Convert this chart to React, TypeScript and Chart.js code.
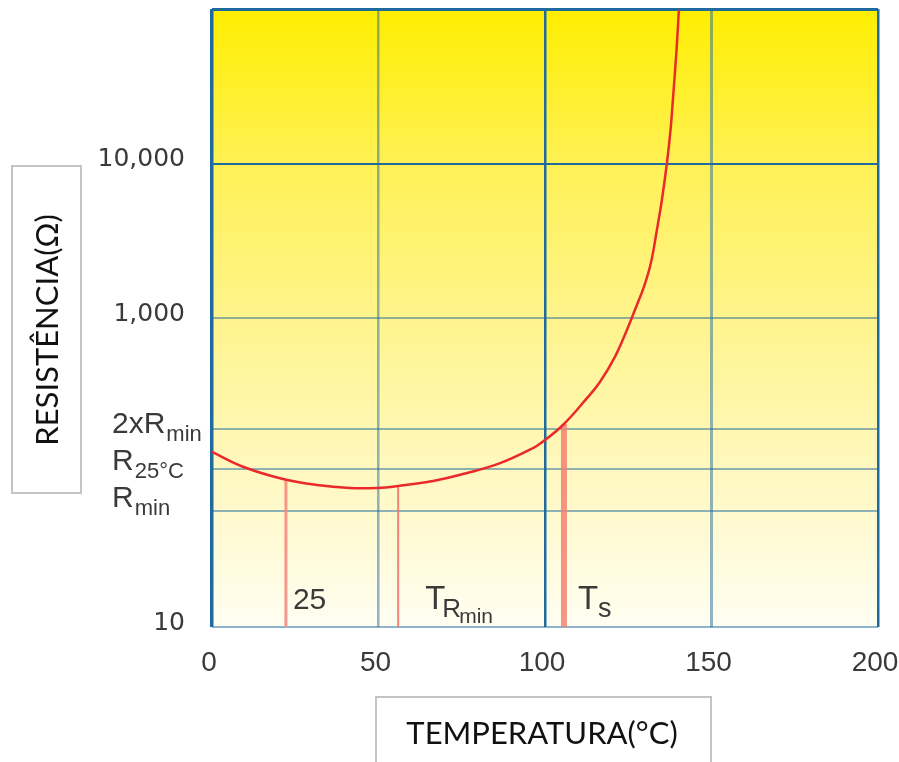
import { useEffect, useRef } from 'react';
import { Chart, registerables } from 'chart.js';

Chart.register(...registerables);

// Resistance curve (temperature °C -> resistance Ω)
const curveT = [0, 9.3, 21.3, 31.5, 41.4, 49.5, 55.9, 66.4, 76.6, 86.5, 96.4, 99.1, 105.4, 112.6, 116.5, 121, 124.6, 127, 129.7, 131.8, 133.6, 135.1, 136.6, 137.7, 138.4, 139.5, 140.2];
const curveR = [136, 109, 90.8, 83, 79.4, 79.4, 81.8, 88.1, 99.3, 115, 144, 157, 203, 303, 385, 560, 836, 1127, 1589, 2270, 3715, 5808, 10000, 16480, 25760, 54300, 98700];

// Vertical marker lines (25 °C, T_Rmin, T_s)
const markerT = [22.2, 55.9, 105.7];
const markerR = [89, 81.8, 205];

// Axis ticks
const xTickValues = [0, 50, 100, 150, 200];
const yTickValues = [10, 56, 105, 190, 1000, 10000, 100000];
const yTickLabels = ['10', '', '', '', '1,000', '10,000', ''];

// Special y labels with subscripts
const specialR = [190, 105, 56];
const specialBase = ['2xR', 'R', 'R'];
const specialSub = ['min', '25°C', 'min'];

const xTitle = 'TEMPERATURA(°C)';
const yTitle = 'RESISTÊNCIA(Ω)';

const DARK = '#1f6a9e';
const LIGHT = 'rgba(31,106,158,0.5)';
const TXT = '#3a3a3a';
const SANS = '"Liberation Sans", Arial, sans-serif';

export default function App() {
  const ref = useRef<HTMLCanvasElement | null>(null);

  useEffect(() => {
    const canvas = ref.current;
    if (!canvas) return;

    const bgPlugin = {
      id: 'bg',
      beforeDraw(chart: any) {
        const { ctx, chartArea: a } = chart;
        const g = ctx.createLinearGradient(0, a.top, 0, a.bottom);
        g.addColorStop(0, 'rgb(255,238,0)');
        g.addColorStop(0.25, 'rgb(255,241,85)');
        g.addColorStop(0.5, 'rgb(255,244,140)');
        g.addColorStop(0.75, 'rgb(255,248,192)');
        g.addColorStop(1, 'rgb(255,254,242)');
        ctx.save();
        ctx.fillStyle = g;
        ctx.fillRect(a.left, a.top, a.right - a.left, a.bottom - a.top);
        ctx.restore();
      },
    };

    const textPlugin = {
      id: 'texts',
      afterDraw(chart: any) {
        const { ctx, chartArea: a } = chart;
        const xs = chart.scales.x;
        const ys = chart.scales.y;
        ctx.save();
        ctx.fillStyle = TXT;
        ctx.textBaseline = 'alphabetic';
        ctx.textAlign = 'left';
        // special y labels
        const offs = [4, 1, -4];
        for (let i = 0; i < specialR.length; i++) {
          const py = ys.getPixelForValue(specialR[i]) + offs[i];
          ctx.font = `30px ${SANS}`;
          ctx.fillText(specialBase[i], 112, py);
          const w = ctx.measureText(specialBase[i]).width;
          ctx.font = `22px ${SANS}`;
          ctx.fillText(specialSub[i], 112 + w + 1, py + 8);
        }
        // marker labels
        const base = a.bottom - 18;
        ctx.font = `30px ${SANS}`;
        ctx.fillText('25', xs.getPixelForValue(markerT[0]) + 7, base);
        let x = xs.getPixelForValue(markerT[1]) + 27;
        ctx.font = `33px ${SANS}`;
        ctx.fillText('T', x, base);
        ctx.font = `26px ${SANS}`;
        ctx.fillText('R', x + 17, base + 8);
        ctx.font = `21px ${SANS}`;
        ctx.fillText('min', x + 34, base + 14);
        x = xs.getPixelForValue(markerT[2]) + 14;
        ctx.font = `33px ${SANS}`;
        ctx.fillText('T', x, base);
        ctx.font = `27px ${SANS}`;
        ctx.fillText('s', x + 20, base + 8);

        // axis title boxes
        ctx.strokeStyle = '#c4c4c4';
        ctx.lineWidth = 2;
        ctx.fillStyle = '#ffffff';
        ctx.fillRect(12, 166, 69, 327);
        ctx.strokeRect(12, 166, 69, 327);
        ctx.fillRect(376, 697, 335, 80);
        ctx.strokeRect(376, 697, 335, 80);
        ctx.fillStyle = '#111111';
        ctx.font = '31px Lato, "Liberation Sans Narrow", sans-serif';
        ctx.textAlign = 'center';
        ctx.textBaseline = 'middle';
        ctx.fillText(xTitle, 542, 734);
        ctx.translate(47, 330);
        ctx.rotate(-Math.PI / 2);
        ctx.fillText(yTitle, 0, 1);
        ctx.restore();
      },
    };

    const markerSets = markerT.map((t, i) => ({
      data: [
        { x: t, y: markerR[i] },
        { x: t, y: 10 },
      ],
      borderColor: ['rgba(245,140,130,0.9)', 'rgba(240,120,110,0.9)', 'rgba(242,130,115,0.85)'][i],
      borderWidth: [3, 2, 6][i],
      pointRadius: 0,
      tension: 0,
      order: 2,
    }));

    const chart = new Chart(canvas, {
      type: 'line',
      data: {
        datasets: [
          {
            data: curveT.map((t, i) => ({ x: t, y: curveR[i] })),
            borderColor: '#ea2a2a',
            borderWidth: 2.5,
            pointRadius: 0,
            tension: 0.4,
            order: 0,
          },
          ...markerSets,
        ],
      },
      options: {
        animation: false,
        responsive: false,
        layout: { padding: { top: 9, right: 21, left: 0, bottom: 0 } },
        plugins: { legend: { display: false }, tooltip: { enabled: false } },
        scales: {
          x: {
            type: 'linear',
            min: 0,
            max: 200,
            afterBuildTicks: (s: any) => {
              s.ticks = xTickValues.map((v) => ({ value: v }));
            },
            afterFit: (s: any) => {
              s.height = 135;
              s.paddingLeft = 0;
              s.paddingRight = 0;
            },
            border: { display: false },
            grid: {
              drawTicks: false,
              color: (c: any) => (c.tick && (c.tick.value === 0 || c.tick.value === 100 || c.tick.value === 200) ? DARK : LIGHT),
              lineWidth: (c: any) => (c.tick && c.tick.value === 0 ? 3.5 : c.tick && c.tick.value === 150 ? 3 : 2.5),
            },
            ticks: {
              padding: 19,
              labelOffset: -3,
              color: TXT,
              font: { family: '"Liberation Sans", Arial', size: 28 },
              maxRotation: 0,
              autoSkip: false,
            },
          },
          y: {
            type: 'logarithmic',
            min: 10,
            max: 100000,
            afterBuildTicks: (s: any) => {
              s.ticks = yTickValues.map((v) => ({ value: v }));
            },
            afterFit: (s: any) => {
              s.width = 212;
              s.paddingTop = 0;
              s.paddingBottom = 0;
            },
            border: { display: false },
            grid: {
              drawTicks: false,
              color: (c: any) => (c.tick && (c.tick.value === 10000 || c.tick.value === 100000) ? DARK : LIGHT),
              lineWidth: (c: any) => (c.tick && c.tick.value === 100000 ? 3 : 2),
            },
            ticks: {
              padding: 27,
              labelOffset: -4,
              color: TXT,
              font: { family: '"DejaVu Sans"', size: 25 },
              autoSkip: false,
              callback: (_v: any, i: number) => yTickLabels[i],
            },
          },
        },
      },
      plugins: [bgPlugin, textPlugin],
    } as any);

    return () => chart.destroy();
  }, []);

  return (
    <div style={{ position: 'fixed', left: 0, top: 0, width: 899, height: 762, background: '#fff' }}>
      <canvas ref={ref} width={899} height={762} style={{ display: 'block' }} />
    </div>
  );
}
